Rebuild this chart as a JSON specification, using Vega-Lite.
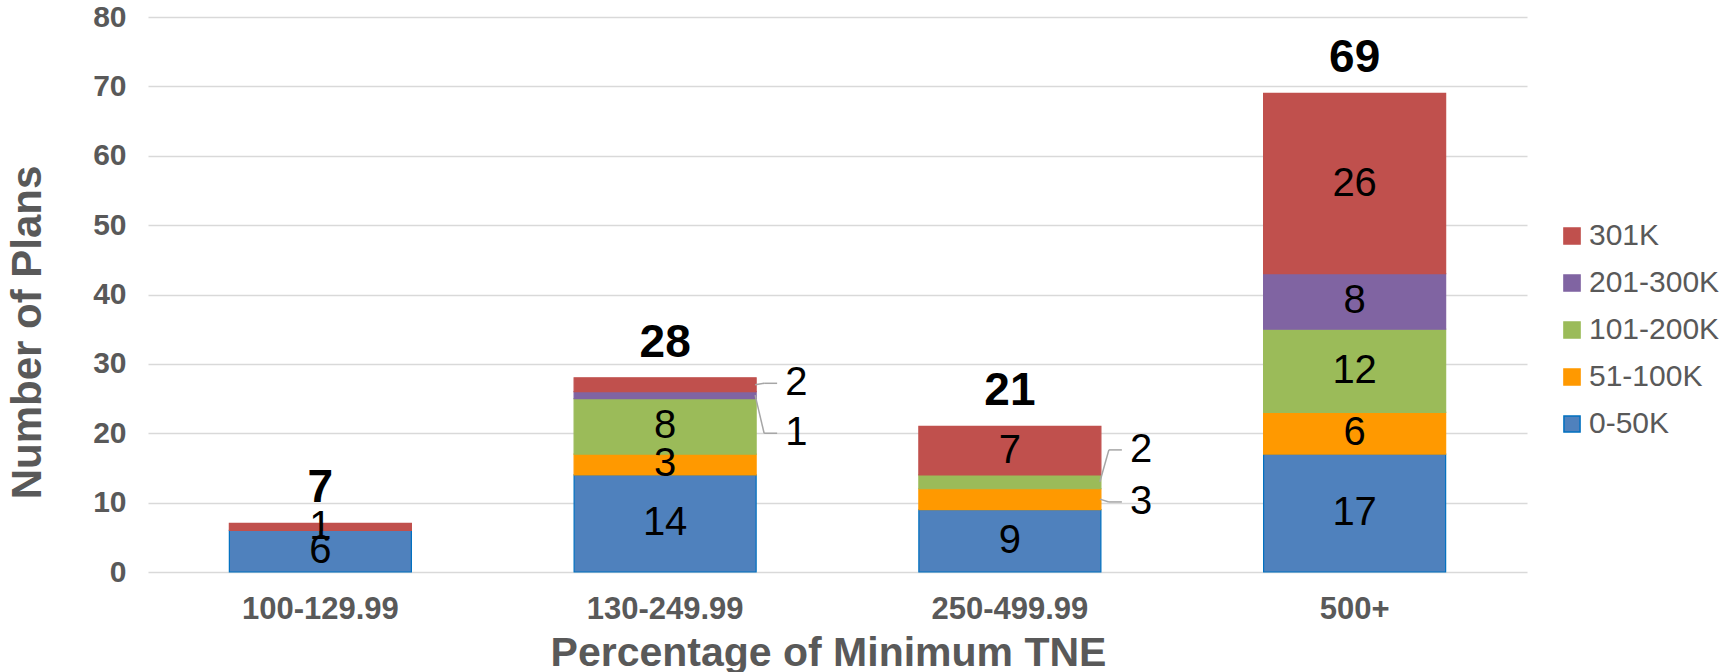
{
  "$schema": "https://vega.github.io/schema/vega-lite/v6.json",
  "autosize": {"type": "none"},
  "padding": {"left": 148, "top": 17, "right": 196, "bottom": 100},
  "width": 1379,
  "height": 555,
  "config": {
    "font": "Liberation Sans",
    "view": {"stroke": null},
    "axis": {"labelColor": "#595959", "titleColor": "#595959"}
  },
  "datasets": {
    "segments": [
      {"cat": "100-129.99", "series": "0-50K", "n": 6},
      {"cat": "100-129.99", "series": "51-100K", "n": 0},
      {"cat": "100-129.99", "series": "101-200K", "n": 0},
      {"cat": "100-129.99", "series": "201-300K", "n": 0},
      {"cat": "100-129.99", "series": "301K", "n": 1},
      {"cat": "130-249.99", "series": "0-50K", "n": 14},
      {"cat": "130-249.99", "series": "51-100K", "n": 3},
      {"cat": "130-249.99", "series": "101-200K", "n": 8},
      {"cat": "130-249.99", "series": "201-300K", "n": 1},
      {"cat": "130-249.99", "series": "301K", "n": 2},
      {"cat": "250-499.99", "series": "0-50K", "n": 9},
      {"cat": "250-499.99", "series": "51-100K", "n": 3},
      {"cat": "250-499.99", "series": "101-200K", "n": 2},
      {"cat": "250-499.99", "series": "201-300K", "n": 0},
      {"cat": "250-499.99", "series": "301K", "n": 7},
      {"cat": "500+", "series": "0-50K", "n": 17},
      {"cat": "500+", "series": "51-100K", "n": 6},
      {"cat": "500+", "series": "101-200K", "n": 12},
      {"cat": "500+", "series": "201-300K", "n": 8},
      {"cat": "500+", "series": "301K", "n": 26}
    ],
    "callouts": [
      {"key": "130-249.99|301K", "to": 27.2},
      {"key": "130-249.99|201-300K", "to": 20.0},
      {"key": "250-499.99|101-200K", "to": 17.6},
      {"key": "250-499.99|51-100K", "to": 10.1}
    ]
  },
  "data": {"name": "segments"},
  "transform": [
    {"calculate": "indexof(['0-50K','51-100K','101-200K','201-300K','301K'], datum.series)", "as": "rank"},
    {"stack": "n", "groupby": ["cat"], "sort": [{"field": "rank", "order": "ascending"}], "as": ["y0", "y1"]},
    {"calculate": "(datum.y0 + datum.y1) / 2", "as": "mid"},
    {"calculate": "datum.cat + '|' + datum.series", "as": "key"},
    {"lookup": "key", "from": {"data": {"name": "callouts"}, "key": "key", "fields": ["to"]}}
  ],
  "encoding": {
    "x": {
      "field": "cat",
      "type": "nominal",
      "sort": ["100-129.99", "130-249.99", "250-499.99", "500+"],
      "scale": {"paddingInner": 0.472, "paddingOuter": 0.236},
      "axis": {
        "title": "Percentage of Minimum TNE",
        "titleFontSize": 41,
        "titleFontWeight": "bold",
        "titleBaseline": "alphabetic",
        "titleX": 680,
        "titleY": 93,
        "labelFontSize": 31,
        "labelFontWeight": "bold",
        "labelPadding": 22,
        "labelAngle": 0,
        "domain": false,
        "ticks": false,
        "grid": false
      }
    }
  },
  "layer": [
    {
      "mark": {"type": "bar", "strokeWidth": 1.2},
      "transform": [{"filter": "datum.n > 0"}],
      "encoding": {
        "y": {
          "field": "y0",
          "type": "quantitative",
          "scale": {"domain": [0, 80]},
          "axis": {
            "title": "Number of Plans",
            "titleFontSize": 42,
            "titleFontWeight": "bold",
            "titleBaseline": "alphabetic",
            "titleX": -108,
            "titleY": 315,
            "values": [0, 10, 20, 30, 40, 50, 60, 70, 80],
            "labelFontSize": 30,
            "labelFontWeight": "bold",
            "labelPadding": 22,
            "domain": false,
            "ticks": false,
            "gridColor": "#d9d9d9",
            "gridWidth": 1.5
          }
        },
        "y2": {"field": "y1"},
        "fill": {
          "field": "series",
          "type": "nominal",
          "scale": {
            "domain": ["301K", "201-300K", "101-200K", "51-100K", "0-50K"],
            "range": ["#C0504D", "#8064A2", "#9BBB59", "#FF9900", "#4F81BD"]
          },
          "legend": {
            "title": null,
            "orient": "none",
            "legendX": 1409,
            "legendY": 204,
            "symbolType": "square",
            "symbolSize": 260,
            "labelFontSize": 30,
            "labelColor": "#595959",
            "labelOffset": 2,
            "rowPadding": 17
          }
        },
        "stroke": {
          "field": "series",
          "type": "nominal",
          "scale": {
            "domain": ["301K", "201-300K", "101-200K", "51-100K", "0-50K"],
            "range": ["#C0504D", "#8064A2", "#9BBB59", "#FF9900", "#0070C0"]
          },
          "legend": {
            "title": null,
            "orient": "none",
            "legendX": 1409,
            "legendY": 204,
            "symbolType": "square",
            "symbolSize": 260,
            "labelFontSize": 30,
            "labelColor": "#595959",
            "labelOffset": 2,
            "rowPadding": 17
          }
        }
      }
    },
    {
      "mark": {"type": "text", "fontSize": 40, "color": "#000000", "baseline": "middle"},
      "transform": [{"filter": "datum.n > 0 && !isValid(datum.to)"}],
      "encoding": {
        "y": {"field": "mid", "type": "quantitative"},
        "text": {"field": "n", "type": "quantitative"}
      }
    },
    {
      "mark": {"type": "rule", "xOffset": 90, "x2Offset": 99, "color": "#a6a6a6", "strokeWidth": 1.5},
      "transform": [{"filter": "isValid(datum.to)"}],
      "encoding": {
        "x2": {"field": "cat"},
        "y": {"field": "mid", "type": "quantitative"},
        "y2": {"field": "to"}
      }
    },
    {
      "mark": {"type": "rule", "xOffset": 99, "x2Offset": 112, "color": "#a6a6a6", "strokeWidth": 1.5},
      "transform": [{"filter": "isValid(datum.to)"}],
      "encoding": {
        "x2": {"field": "cat"},
        "y": {"field": "to", "type": "quantitative"}
      }
    },
    {
      "mark": {"type": "text", "fontSize": 40, "color": "#000000", "baseline": "middle", "align": "left", "dx": 120},
      "transform": [{"filter": "isValid(datum.to)"}],
      "encoding": {
        "y": {"field": "to", "type": "quantitative"},
        "text": {"field": "n", "type": "quantitative"}
      }
    },
    {
      "mark": {"type": "text", "fontSize": 46, "fontWeight": "bold", "color": "#000000", "baseline": "middle", "dy": -35},
      "transform": [{"aggregate": [{"op": "sum", "field": "n", "as": "total"}], "groupby": ["cat"]}],
      "encoding": {
        "y": {"field": "total", "type": "quantitative"},
        "text": {"field": "total", "type": "quantitative"}
      }
    }
  ]
}
